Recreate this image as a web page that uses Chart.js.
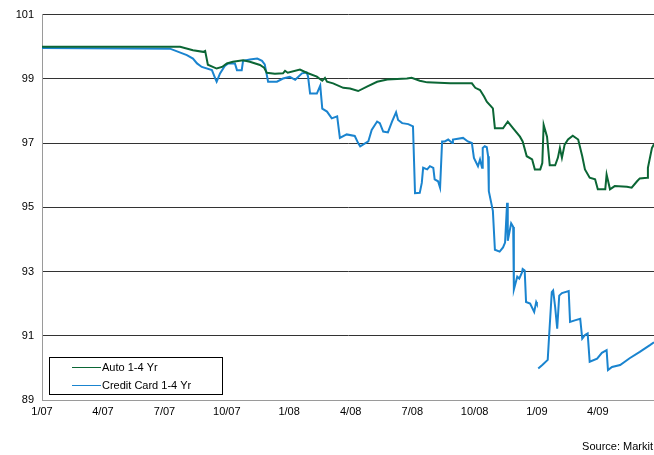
<!DOCTYPE html>
<html>
<head>
<meta charset="utf-8">
<script src="https://cdn.jsdelivr.net/npm/chart.js@4"></script>
<style>
  body { margin: 0; background: #fff; }
  #wrap { position: relative; width: 654px; height: 455px; }
</style>
</head>
<body>
<div id="wrap"><canvas id="chart" width="654" height="455"></canvas></div>
<script>
// x values are days since 1 Jan 2007
const tickDays = [0, 90, 181, 273, 365, 456, 547, 639, 731, 821];
const tickLabels = ['1/07', '4/07', '7/07', '10/07', '1/08', '4/08', '7/08', '10/08', '1/09', '4/09'];

const autoDays = [0, 204, 223, 238, 241, 245, 258, 266, 273, 282, 297, 307, 322, 328, 332, 344, 356, 359, 363, 381,
  391, 406, 414, 418, 421, 430, 445, 455, 467, 480, 495, 510, 539, 546, 558, 569, 603, 635, 640, 647,
  653, 657, 666, 669, 681, 688, 696, 706, 710, 716, 724, 728, 736, 739, 741, 746, 750, 758, 762, 765,
  768, 772, 777, 784, 792, 798, 802, 809, 817, 821, 832, 834, 839, 846, 864, 871, 879, 883, 894, 895,
  901, 904];
const autoValues = [100.0, 100.0, 99.89, 99.84, 99.87, 99.44, 99.32, 99.37, 99.48, 99.53, 99.58, 99.53, 99.43, 99.35, 99.19, 99.16, 99.17, 99.25, 99.19, 99.29,
  99.19, 99.07, 98.94, 99.03, 98.91, 98.86, 98.72, 98.70, 98.62, 98.76, 98.91, 98.98, 99.01, 99.03, 98.94, 98.89, 98.86, 98.86, 98.72, 98.65,
  98.45, 98.29, 98.08, 97.46, 97.46, 97.67, 97.46, 97.20, 97.05, 96.59, 96.49, 96.18, 96.18, 96.38, 97.57, 97.20, 96.31, 96.31, 96.54, 96.85,
  96.54, 96.95, 97.11, 97.23, 97.11, 96.59, 96.18, 95.92, 95.87, 95.56, 95.56, 96.02, 95.56, 95.66, 95.64, 95.61, 95.81, 95.90, 95.92, 96.23,
  96.85, 96.96];

const cardDays = [0, 189, 214, 223, 229, 236, 251, 256, 258, 263, 270, 275, 285, 288, 295, 297, 307, 318, 325, 329,
  334, 347, 356, 366, 374, 384, 391, 393, 396, 406, 411, 414, 421, 428, 436, 440, 450, 462, 467, 470,
  482, 487, 495, 499, 504, 511, 517, 523, 526, 532, 541, 548, 551, 558, 561, 563, 569, 573, 578, 580,
  585, 588, 591, 595, 600, 606, 607, 622, 629, 635, 638, 644, 647, 650, 651, 654, 657, 659, 660, 666,
  669, 676, 681, 684, 687, 688, 693, 696, 697, 702, 705, 709, 710, 713, 715, 721, 727, 730, 731, 732,
  733, 739, 747, 749, 753, 755, 758, 761, 762, 764, 768, 778, 780, 787, 795, 798, 802, 806, 809, 820,
  827, 834, 836, 842, 854, 868, 883, 898, 904];
const cardValues = [99.96, 99.94, 99.74, 99.63, 99.48, 99.37, 99.27, 99.01, 98.91, 99.17, 99.40, 99.48, 99.48, 99.27, 99.27, 99.56, 99.60, 99.63, 99.56, 99.45,
  98.91, 98.91, 99.01, 99.06, 98.97, 99.17, 99.20, 99.07, 98.54, 98.54, 98.79, 98.07, 97.98, 97.77, 97.83, 97.16, 97.27, 97.22, 97.00, 96.90,
  97.05, 97.41, 97.67, 97.62, 97.36, 97.33, 97.67, 97.96, 97.72, 97.62, 97.59, 97.52, 95.44, 95.45, 95.76, 96.23, 96.18, 96.28, 96.23, 95.87,
  95.81, 95.61, 97.05, 97.05, 97.11, 97.00, 97.11, 97.16, 97.05, 97.00, 96.54, 96.28, 96.49, 96.23, 96.85, 96.90, 96.87, 96.59, 95.50, 94.89,
  93.68, 93.62, 93.75, 93.90, 95.14, 93.96, 94.50, 94.39, 92.44, 92.84, 92.78, 92.97, 93.08, 93.03, 92.05, 92.00, 91.74, 92.05, 92.00, null,
  89.98, 90.09, 90.25, 90.97, 92.36, 92.41, 91.89, 91.22, 91.22, 92.25, 92.33, 92.39, 91.43, 91.48, 91.53, 90.91, 91.02, 91.07, 90.19, 90.29,
  90.47, 90.55, 89.93, 90.03, 90.09, 90.30, 90.50, 90.71, 90.80];

const seriesNames = ['Auto 1-4 Yr', 'Credit Card 1-4 Yr'];
const seriesColors = ['#0b6635', '#1a84cf'];

const FONT = 'Arial, "Liberation Sans", sans-serif';

const pairs = (xs, ys) => xs.map((x, i) => ({ x: x, y: ys[i] }));

const boxLegend = {
  id: 'boxLegend',
  afterDraw(chart) {
    const ctx = chart.ctx;
    ctx.save();
    ctx.fillStyle = '#fff';
    ctx.fillRect(49.5, 357.5, 173, 37);
    ctx.strokeStyle = '#000';
    ctx.lineWidth = 1;
    ctx.strokeRect(49.5, 357.5, 173, 37);
    ctx.font = '11px ' + FONT;
    ctx.textBaseline = 'middle';
    chart.data.datasets.forEach((ds, i) => {
      const y = 367.5 + i * 18;
      ctx.strokeStyle = ds.borderColor;
      ctx.beginPath();
      ctx.moveTo(72, y);
      ctx.lineTo(101, y);
      ctx.stroke();
      ctx.fillStyle = '#000';
      ctx.fillText(ds.label, 102, y);
    });
    ctx.textAlign = 'right';
    ctx.fillText('Source: Markit', 653, 447);
    ctx.restore();
  }
};

new Chart(document.getElementById('chart'), {
  type: 'line',
  data: {
    datasets: [
      { label: seriesNames[0], data: pairs(autoDays, autoValues), borderColor: seriesColors[0] },
      { label: seriesNames[1], data: pairs(cardDays, cardValues), borderColor: seriesColors[1] }
    ]
  },
  options: {
    responsive: false,
    animation: false,
    spanGaps: false,
    elements: {
      point: { radius: 0 },
      line: { borderWidth: 2, tension: 0, fill: false }
    },
    layout: { padding: { top: 12, right: 0, left: 0, bottom: 0 } },
    plugins: { legend: { display: false }, tooltip: { enabled: false } },
    scales: {
      x: {
        type: 'linear',
        min: 0,
        max: 904,
        afterBuildTicks: s => { s.ticks = tickDays.map(v => ({ value: v })); },
        afterFit: s => { s.height = 55; },
        grid: { display: false, drawTicks: false },
        border: { color: '#9a9a9a', width: 1 },
        ticks: {
          autoSkip: false,
          maxRotation: 0,
          padding: 5,
          color: '#000',
          font: { family: FONT, size: 11 },
          callback: v => tickLabels[tickDays.indexOf(v)]
        }
      },
      y: {
        min: 89,
        max: 101,
        afterFit: s => { s.width = 42; },
        grid: { color: '#333', lineWidth: 1, drawTicks: false },
        border: { color: '#9a9a9a', width: 1 },
        ticks: {
          stepSize: 2,
          padding: 8,
          color: '#000',
          font: { family: FONT, size: 11 }
        }
      }
    }
  },
  plugins: [boxLegend]
});
</script>
</body>
</html>
